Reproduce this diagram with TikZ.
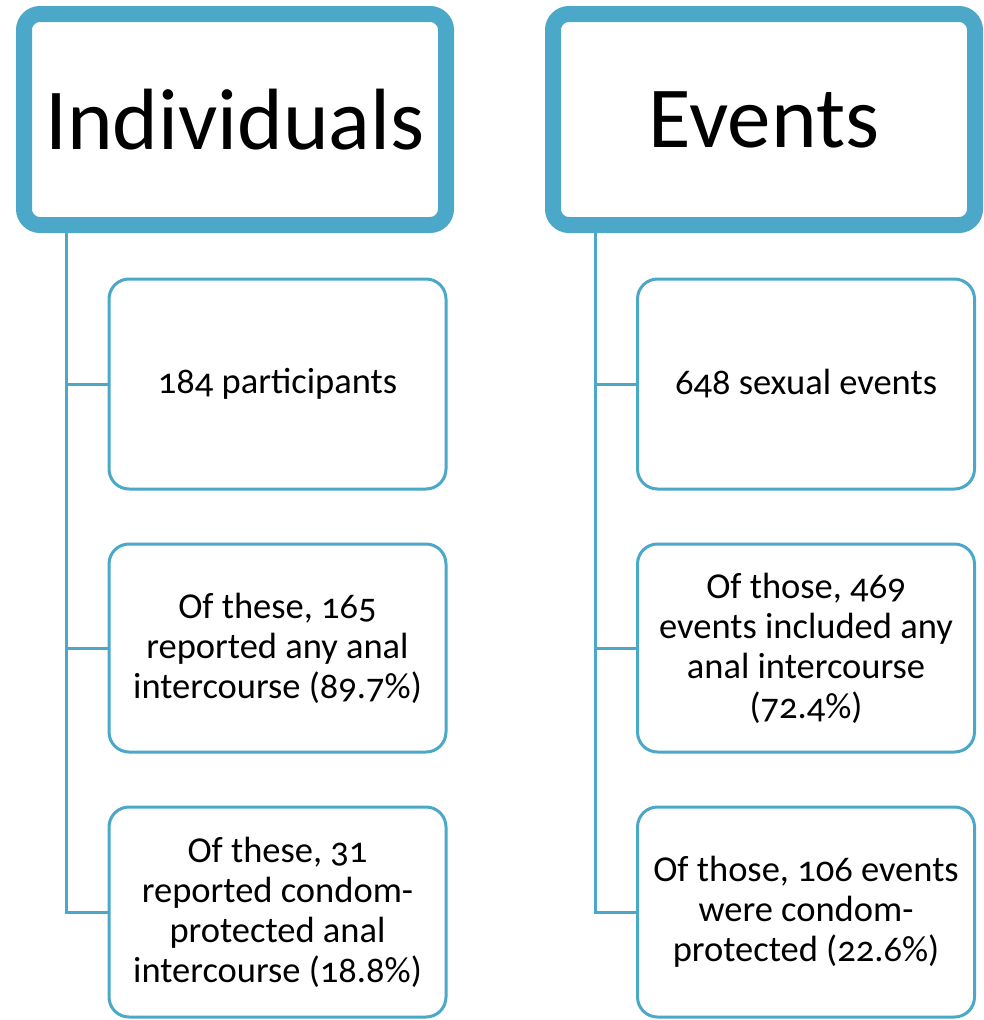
\documentclass[tikz,border=0pt]{standalone}
\usepackage{fontspec}
\setmainfont[Numbers=OldStyle]{Carlito}
\definecolor{bl}{RGB}{75,168,200}
\tikzset{
  head/.style={draw=bl, line width=16pt, rounded corners=16pt, fill=white,
    minimum width=422pt, minimum height=211pt, inner sep=0pt,
    font=\fontsize{87}{100}\selectfont},
  child/.style={draw=bl, line width=3pt, rounded corners=20pt, fill=white,
    minimum width=337pt, minimum height=210pt, inner sep=0pt, align=center,
    font=\fontsize{36.5}{40}\selectfont},
  conn/.style={draw=bl, line width=3pt}
}
\begin{document}
\begin{tikzpicture}[x=1pt,y=-1pt]
\useasboundingbox (0,0) rectangle (983,1020);
\node[head] (ind) at (235,119.5) {Individuals};
\node[head] (ev) at (764,119.5) {Events};
\coordinate (la) at (66,0);
\coordinate (ra) at (595,0);
\node[child] (i1) at (277.5,384) {184 participants};
\node[child, minimum height=208pt] (i2) at (277.5,648) {Of these, 165\\reported any anal\\intercourse (89.7\%)};
\node[child] (i3) at (277.5,912) {Of these, 31\\reported condom-\\protected anal\\intercourse (18.8\%)};
\node[child] (e1) at (806,384) {648 sexual events};
\node[child, minimum height=208pt] (e2) at (806,648) {Of those, 469\\events included any\\anal intercourse\\(72.4\%)};
\node[child] (e3) at (806,912) {Of those, 106 events\\were condom-\\protected (22.6\%)};
\draw[conn] (ind.south -| la) |- (i3.west);
\draw[conn] (i1.west -| la) -- (i1.west);
\draw[conn] (i2.west -| la) -- (i2.west);
\draw[conn] (ev.south -| ra) |- (e3.west);
\draw[conn] (e1.west -| ra) -- (e1.west);
\draw[conn] (e2.west -| ra) -- (e2.west);
\end{tikzpicture}
\end{document}
